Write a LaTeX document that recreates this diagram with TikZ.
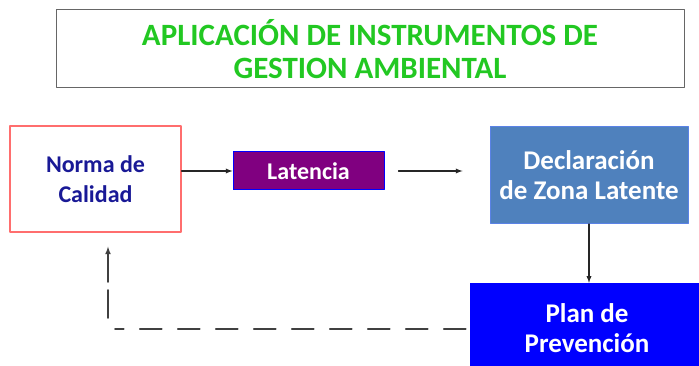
\documentclass[tikz,border=0pt]{standalone}
\usepackage{fontspec}
\setmainfont{Carlito}
\usetikzlibrary{arrows}
\usetikzlibrary{positioning}

\definecolor{titlegreen}{RGB}{34,200,34}
\definecolor{normablue}{RGB}{25,25,150}
\definecolor{normared}{RGB}{255,110,110}
\definecolor{latpurple}{RGB}{128,0,128}
\definecolor{declblue}{RGB}{79,129,189}
\definecolor{declborder}{RGB}{90,130,230}
\definecolor{planblue}{RGB}{0,0,255}

\tikzset{
  box/.style={rectangle,align=center,font=\bfseries\fontsize{24}{30}\selectfont,inner sep=0pt},
  bigbox/.style={box,font=\bfseries\fontsize{27}{30}\selectfont},
  link/.style={draw=black!85,line width=1.3pt,-latex},
  backlink/.style={draw=black!75,line width=1.6pt,dash pattern=on 22pt off 16pt}
}

\begin{document}
\begin{tikzpicture}[line cap=round,line join=round,x=1pt,y=-1pt]
\useasboundingbox (0,0) rectangle (699,366);
\clip (0,0) rectangle (699,366);
% title
\node[box,draw=black!60,line width=1pt,minimum width=628,minimum height=78,
  text=titlegreen,font=\bfseries\fontsize{31}{33}\selectfont] (title) at (370,49)
  {APLICACIÓN DE INSTRUMENTOS DE\\GESTION AMBIENTAL};
% boxes
\node[box,draw=normared,line width=1.3pt,minimum width=171,minimum height=106,
  text=normablue] (norma) at (95.5,179) {Norma de\\Calidad};
\node[box,draw=blue,fill=latpurple,line width=1pt,minimum width=151,minimum height=38,
  text=white] (lat) at (308.5,171) {Latencia};
\node[bigbox,draw=declborder,fill=declblue,line width=1pt,minimum width=198,minimum height=97,
  text=white] (decl) at (589,175) {Declaración\\de Zona Latente};
\node[bigbox,draw=blue,fill=planblue,minimum width=234,minimum height=90,
  text=white] (plan) at (587,328) {Plan de\\Prevención};
\coordinate (back) at (108,329);
% connectors
\draw[link] (lat.west -| norma.east) -- (lat.west);
\draw[link] ([xshift=14pt]lat.east) -- ([xshift=-27pt]lat.east -| decl.west);
\draw[link] (decl.south) -- (decl.south |- plan.north);
\draw[backlink] ([xshift=-4pt]plan.west |- back) -- ([xshift=7pt]back);
\draw[backlink,dash pattern=on 28pt off 8pt,-latex] ([yshift=11pt]back) -- ([yshift=-14pt]back |- norma.south);
\end{tikzpicture}
\end{document}
